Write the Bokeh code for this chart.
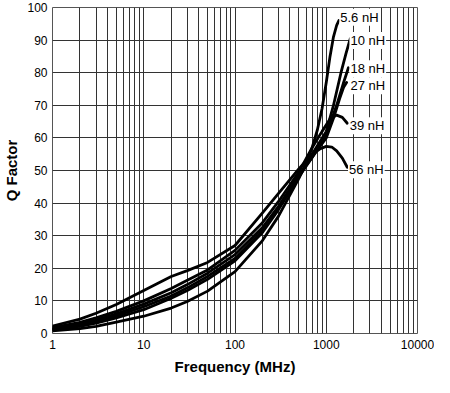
from bokeh.plotting import figure
from bokeh.models import FixedTicker, NumeralTickFormatter, Label, Range1d
from bokeh.embed import file_html
from bokeh.resources import INLINE

# ---- data ----
f_56 = [1, 2, 3, 5, 10, 20, 30, 50, 100, 200, 300, 500, 700, 850, 1000, 1150, 1300, 1500, 1700]
q_56 = [2.3, 4.4, 6.2, 8.9, 13.2, 17.5, 19.3, 21.8, 27, 37, 43, 50.5, 55, 56.6, 57.4, 57.2, 56, 53.8, 51]

f_39 = [1, 2, 3, 5, 10, 20, 30, 50, 100, 200, 300, 500, 700, 900, 1100, 1300, 1500, 1700]
q_39 = [1.8, 3.4, 4.8, 6.8, 10, 13.8, 16.3, 19.5, 25.5, 34, 40.5, 49.5, 57, 62, 65.8, 67, 66.3, 64.5]

f_27 = [1, 2, 3, 5, 10, 20, 30, 50, 100, 200, 300, 500, 700, 1000, 1200, 1400, 1550, 1670]
q_27 = [1.5, 2.9, 4.1, 6.0, 9.0, 12.5, 15, 18.5, 24.2, 32.5, 39, 48.5, 54, 60, 66, 72, 75.5, 77]

f_18 = [1, 2, 3, 5, 10, 20, 30, 50, 100, 200, 300, 500, 700, 1000, 1300, 1550, 1750]
q_18 = [1.3, 2.6, 3.7, 5.4, 8.2, 11.5, 14, 17.5, 23, 31.5, 38.5, 48, 54, 61, 70, 77, 81.5]

f_10 = [1, 2, 3, 5, 10, 20, 30, 50, 100, 200, 300, 500, 700, 1000, 1200, 1450, 1650, 1830]
q_10 = [1.1, 2.2, 3.2, 4.8, 7.3, 10.8, 13.2, 16.6, 22.3, 31, 38, 48, 55, 62, 70, 80, 86, 90.4]

f_5p6 = [1, 2, 3, 5, 10, 20, 30, 50, 100, 200, 300, 500, 600, 700, 800, 900, 1000, 1100, 1200, 1300, 1375]
q_5p6 = [0.8, 1.5, 2.2, 3.5, 5.3, 7.8, 9.8, 13, 19, 28.5, 36, 47.5, 52, 57, 62.5, 69, 77, 85, 91, 94.5, 96]

series = [(f_5p6, q_5p6), (f_10, q_10), (f_18, q_18), (f_27, q_27), (f_39, q_39), (f_56, q_56)]

label_text = ["5.6 nH", "10 nH", "18 nH", "27 nH", "39 nH", "56 nH"]
label_f = [2310, 2850, 2850, 2850, 2800, 2750]
label_q = [97, 89.9, 81.2, 76, 63.7, 50.2]

x_ticks = [1, 10, 100, 1000, 10000]
y_ticks = [0, 10, 20, 30, 40, 50, 60, 70, 80, 90, 100]

FONT = "Liberation Sans"

p = figure(width=434, height=377, x_axis_type="log",
           x_range=Range1d(1, 10000), y_range=Range1d(0, 100),
           output_backend="svg", toolbar_location=None,
           min_border_left=5, min_border_right=17, min_border_top=7, min_border_bottom=5)
p.background_fill_color = "white"
p.border_fill_color = "white"
p.outline_line_color = "#555555"
p.outline_line_width = 1

minor = [m * d for d in [1, 10, 100, 1000] for m in range(2, 10)]
p.xaxis.ticker = FixedTicker(ticks=x_ticks, minor_ticks=minor)
p.yaxis.ticker = FixedTicker(ticks=y_ticks)
p.xaxis.formatter = NumeralTickFormatter(format="0")

for ax in (p.xaxis, p.yaxis):
    ax.axis_line_color = None
    ax.major_tick_line_color = None
    ax.minor_tick_line_color = None
    ax.major_tick_out = 0
    ax.major_tick_in = 0
    ax.minor_tick_out = 0
    ax.minor_tick_in = 0
    ax.major_label_text_font = FONT
    ax.major_label_text_font_size = "12px"
    ax.major_label_text_color = "black"
    ax.axis_label_text_font = FONT
    ax.axis_label_text_font_size = "15px"
    ax.axis_label_text_font_style = "bold"
    ax.axis_label_text_color = "black"

p.xaxis.axis_label = "Frequency (MHz)"
p.yaxis.axis_label = "Q Factor"
p.xaxis.major_label_standoff = 6
p.yaxis.major_label_standoff = 5
p.xaxis.axis_label_standoff = 6
p.yaxis.axis_label_standoff = 4

p.xgrid.grid_line_color = "#333333"
p.xgrid.grid_line_width = 1
p.xgrid.minor_grid_line_color = "#333333"
p.xgrid.minor_grid_line_width = 1
p.ygrid.grid_line_color = "#333333"
p.ygrid.grid_line_width = 1.2

for fx, qy in series:
    p.line(fx, qy, line_color="black", line_width=2.8, line_join="round", line_cap="round")

for t, fx, qy in zip(label_text, label_f, label_q):
    p.add_layout(Label(x=fx, y=qy, text=t, text_align="center", text_baseline="middle",
                       text_font=FONT, text_font_size="13px", text_color="black",
                       background_fill_color="white", padding=1))

open("out.html", "w").write(file_html(p, INLINE))
